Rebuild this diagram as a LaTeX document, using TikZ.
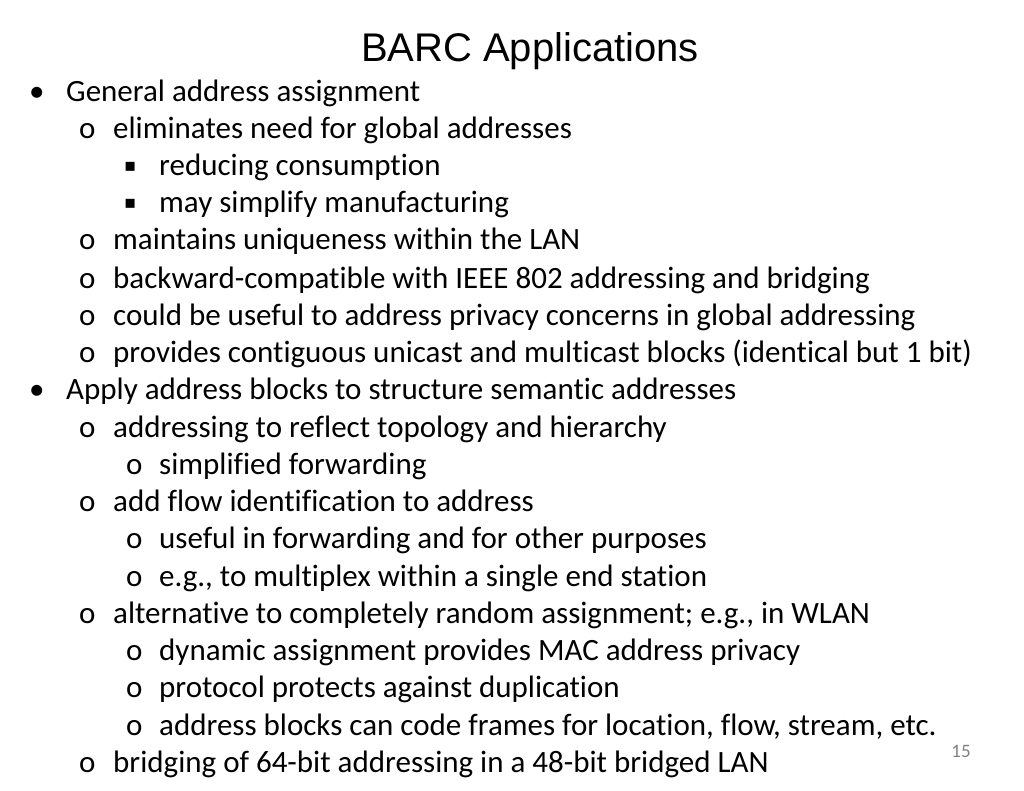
\documentclass[tikz,border=0pt]{standalone}
\usepackage{fontspec}
\setmainfont[Ligatures=NoCommon]{Carlito}
\newfontfamily\titlefont{Liberation Sans}
\newfontfamily\symfont{DejaVu Sans}
\tikzset{
 txt/.style={anchor=base west, inner sep=0pt, font=\fontsize{31}{36}\selectfont},
 bul/.style={anchor=base west, inner sep=0pt, font=\fontsize{31}{36}\selectfont},
}
\begin{document}
\begin{tikzpicture}[x=1pt,y=1pt]
\useasboundingbox (0,0) rectangle (1024,-791);
\node[anchor=base, inner sep=0pt, font=\titlefont\fontsize{40}{46}\selectfont] (title) at (530,-62) {BARC Applications};
\newcommand{\Lone}[3]{\node[bul] (b#1) at (29,-#2-9) {\textbullet};\node[txt] (t#1) at (66,-#2-9) {#3};}
\newcommand{\Ltwo}[3]{\node[bul] (b#1) at (79,-#2-9) {o};\node[txt] (t#1) at (113,-#2-9) {#3};}
\newcommand{\Lsq}[3]{\node[bul,font=\symfont\fontsize{18}{20}\selectfont] (b#1) at (124,-#2-5) {▪};\node[txt] (t#1) at (159,-#2-9) {#3};}
\newcommand{\Lthr}[3]{\node[bul] (b#1) at (126,-#2-9) {o};\node[txt] (t#1) at (159,-#2-9) {#3};}
\Lone{1}{93}{General address assignment}
\Ltwo{2}{130}{eliminates need for global addresses}
\Lsq{3}{167}{reducing consumption}
\Lsq{4}{204}{may simplify manufacturing}
\Ltwo{5}{241}{maintains uniqueness within the LAN}
\Ltwo{6}{279}{backward-compatible with IEEE 802 addressing and bridging}
\Ltwo{7}{316}{could be useful to address privacy concerns in global addressing}
\Ltwo{8}{353}{provides contiguous unicast and multicast blocks (identical but 1 bit)}
\Lone{9}{390}{Apply address blocks to structure semantic addresses}
\Ltwo{10}{428}{addressing to reflect topology and hierarchy}
\Lthr{11}{465}{simplified forwarding}
\Ltwo{12}{502}{add flow identification to address}
\Lthr{13}{539}{useful in forwarding and for other purposes}
\Lthr{14}{577}{e.g., to multiplex within a single end station}
\Ltwo{15}{614}{alternative to completely random assignment; e.g., in WLAN}
\Lthr{16}{651}{dynamic assignment provides MAC address privacy}
\Lthr{17}{688}{protocol protects against duplication}
\Lthr{18}{726}{address blocks can code frames for location, flow, stream, etc.}
\Ltwo{19}{763}{bridging of 64-bit addressing in a 48-bit bridged LAN}
\node[anchor=base, inner sep=0pt, text=gray, font=\fontsize{19}{22}\selectfont] (pg) at (961,-757) {15};
\end{tikzpicture}
\end{document}
